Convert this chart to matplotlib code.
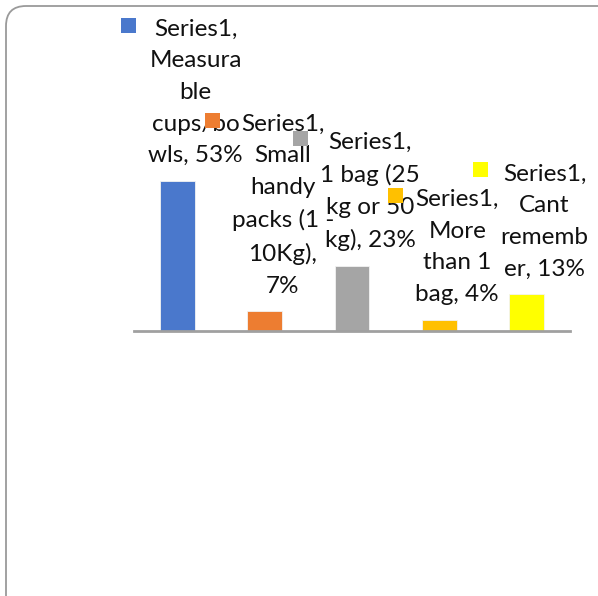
import matplotlib
matplotlib.use("Agg")
import matplotlib.pyplot as plt
from matplotlib.patches import FancyBboxPatch, Rectangle
from matplotlib.transforms import IdentityTransform

# Data
series_name = "Series1"
categories = [
    "Measura\nble\ncups/bo\nwls",
    "Small\nhandy\npacks (1 -\n10Kg)",
    "1 bag (25\nkg or 50\nkg)",
    "More\nthan 1\nbag",
    "Cant\nrememb\ner",
]
value_separators = [", ", ",\n", ", ", ", ", ", "]
values = [0.53, 0.07, 0.23, 0.04, 0.13]
colors = ["#4A78CC", "#ED7D31", "#A5A5A5", "#FFC000", "#FFFF00"]

W, H = 598, 596
fig = plt.figure(figsize=(W / 100, H / 100), dpi=100)
fig.patch.set_facecolor("white")

# Rounded outer frame (extends past right and bottom edges)
frame = FancyBboxPatch((6, -40), W + 40, H - 6 + 40,
                       boxstyle="round,pad=0,rounding_size=20",
                       transform=IdentityTransform(), facecolor="none",
                       edgecolor="#9a9a9a", linewidth=1.3, zorder=-1)
fig.patches.append(frame)

ax_left, ax_right = 134, 570
ax_bottom, ax_top = 331, 161
ax = fig.add_axes([ax_left / W, 1 - ax_bottom / H,
                   (ax_right - ax_left) / W, (ax_bottom - ax_top) / H])
ax.set_facecolor("none")
x = list(range(len(values)))
ax.bar(x, values, width=0.4, color=colors, edgecolor="#f2f2f2", linewidth=0.6, zorder=2)
ax.set_xlim(-0.5, len(values) - 0.5)
ax.set_ylim(0, 0.6)
for s in ["top", "right", "left"]:
    ax.spines[s].set_visible(False)
ax.spines["bottom"].set_color("#a0a0a0")
ax.spines["bottom"].set_linewidth(2)
ax.set_xticks([])
ax.set_yticks([])

font = ["Lato", "DejaVu Sans"]
labels = []
for i, (cat, sep, v) in enumerate(zip(categories, value_separators, values)):
    txt = f"{series_name},\n{cat}{sep}{round(v * 100)}%"
    t = ax.annotate(txt, xy=(i, v), xytext=(13, 10.5), textcoords="offset points",
                    ha="center", va="bottom", fontsize=17.5, family=font,
                    color="#111111", linespacing=1.63, zorder=3,
                    annotation_clip=False)
    labels.append(t)

# Legend-key squares beside each data label
fig.canvas.draw()
renderer = fig.canvas.get_renderer()
for t, c in zip(labels, colors):
    bb = t.get_window_extent(renderer)
    n_lines = t.get_text().count("\n") + 1
    lh = bb.height / n_lines
    size = 15
    left = bb.x0 - 12 - size
    cy = bb.y1 - lh / 2 + 8
    fig.patches.append(Rectangle((left, cy - size / 2), size, size,
                                 transform=IdentityTransform(), facecolor=c,
                                 edgecolor="none", zorder=4))

fig.savefig("out.png", dpi=100)
